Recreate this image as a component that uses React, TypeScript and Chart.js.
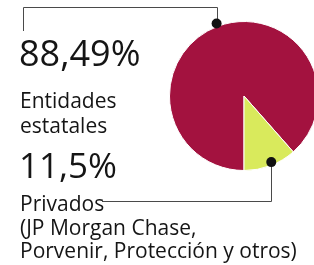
import React, { useEffect, useRef } from "react";
import { Chart, registerables } from "chart.js";

Chart.register(...registerables);

const categories = ["Entidades estatales", "Privados (JP Morgan Chase, Porvenir, Protección y otros)"];
const values = [88.49, 11.5];
const valueLabels = ["88,49%", "11,5%"];
const labelLines = [
  ["Entidades", "estatales"],
  ["Privados", "(JP Morgan Chase,", "Porvenir, Protección y otros)"],
];
const colors = ["#a3123f", "#d9ea5c"];

const FONT = "'Open Sans', 'Noto Sans', sans-serif";
const TEXT = "#151515";

const leaderPlugin = {
  id: "leaders",
  afterDraw(chart: any) {
    const ctx = chart.ctx;
    const meta = chart.getDatasetMeta(0);
    const a0 = meta.data[0];
    const a1 = meta.data[1];
    const m0 = (a0.startAngle + a0.endAngle) / 2;
    const m1 = (a1.startAngle + a1.endAngle) / 2;
    const d0x = a0.x + (a0.outerRadius + 3) * Math.cos(m0);
    const d0y = a0.y + (a0.outerRadius + 3) * Math.sin(m0);
    const d1x = a1.x + (a1.outerRadius - 3) * Math.cos(m1 - 0.03);
    const d1y = a1.y + (a1.outerRadius - 3) * Math.sin(m1 - 0.03);
    ctx.save();
    ctx.strokeStyle = "#4a4a4a";
    ctx.lineWidth = 1;
    ctx.beginPath();
    ctx.moveTo(Math.round(d0x) + 0.5, d0y);
    ctx.lineTo(Math.round(d0x) + 0.5, 7.5);
    ctx.lineTo(23.5, 7.5);
    ctx.lineTo(23.5, 31);
    ctx.stroke();
    ctx.beginPath();
    ctx.moveTo(Math.round(d1x) + 0.5, d1y);
    ctx.lineTo(Math.round(d1x) + 0.5, 201.5);
    ctx.lineTo(102, 201.5);
    ctx.stroke();
    ctx.fillStyle = "#111";
    ctx.beginPath();
    ctx.arc(d0x, d0y, 5, 0, Math.PI * 2);
    ctx.fill();
    ctx.beginPath();
    ctx.arc(d1x, d1y, 5, 0, Math.PI * 2);
    ctx.fill();
    ctx.restore();
  },
};

export default function App() {
  const ref = useRef<HTMLCanvasElement>(null);
  useEffect(() => {
    if (!ref.current) return;
    const chart = new Chart(ref.current, {
      type: "pie",
      data: {
        labels: categories,
        datasets: [
          {
            data: values,
            backgroundColor: colors,
            borderColor: "#ffffff",
            borderWidth: 1,
          },
        ],
      },
      options: {
        responsive: false,
        animation: false,
        rotation: 180,
        layout: { padding: { left: 169, right: 11, top: 21, bottom: 94 } },
        plugins: { legend: { display: false }, tooltip: { enabled: false } },
      },
      plugins: [leaderPlugin],
    });
    return () => chart.destroy();
  }, []);

  const big = (text: string, top: number, size: number) => (
    <div
      style={{
        position: "absolute",
        left: 19,
        top,
        fontFamily: FONT,
        fontSize: size,
        lineHeight: size + "px",
        color: TEXT,
        whiteSpace: "nowrap",
      }}
    >
      {text}
    </div>
  );
  const small = (text: string, top: number) => (
    <div
      key={text}
      style={{
        position: "absolute",
        left: 20,
        top,
        fontFamily: FONT,
        fontSize: 21,
        lineHeight: "21px",
        color: TEXT,
        whiteSpace: "nowrap",
      }}
    >
      {text}
    </div>
  );

  return (
    <div
      style={{
        position: "absolute",
        left: 0,
        top: 0,
        width: 314,
        height: 265,
        overflow: "hidden",
        background: "#ffffff",
      }}
    >
      <canvas ref={ref} width={330} height={265} style={{ position: "absolute", left: 0, top: 0 }} />
      {big(valueLabels[0], 35, 36)}
      {small(labelLines[0][0], 89.5)}
      {small(labelLines[0][1], 114.5)}
      {big(valueLabels[1], 147, 35)}
      {small(labelLines[1][0], 193)}
      {small(labelLines[1][1], 216.5)}
      {small(labelLines[1][2], 240)}
    </div>
  );
}
